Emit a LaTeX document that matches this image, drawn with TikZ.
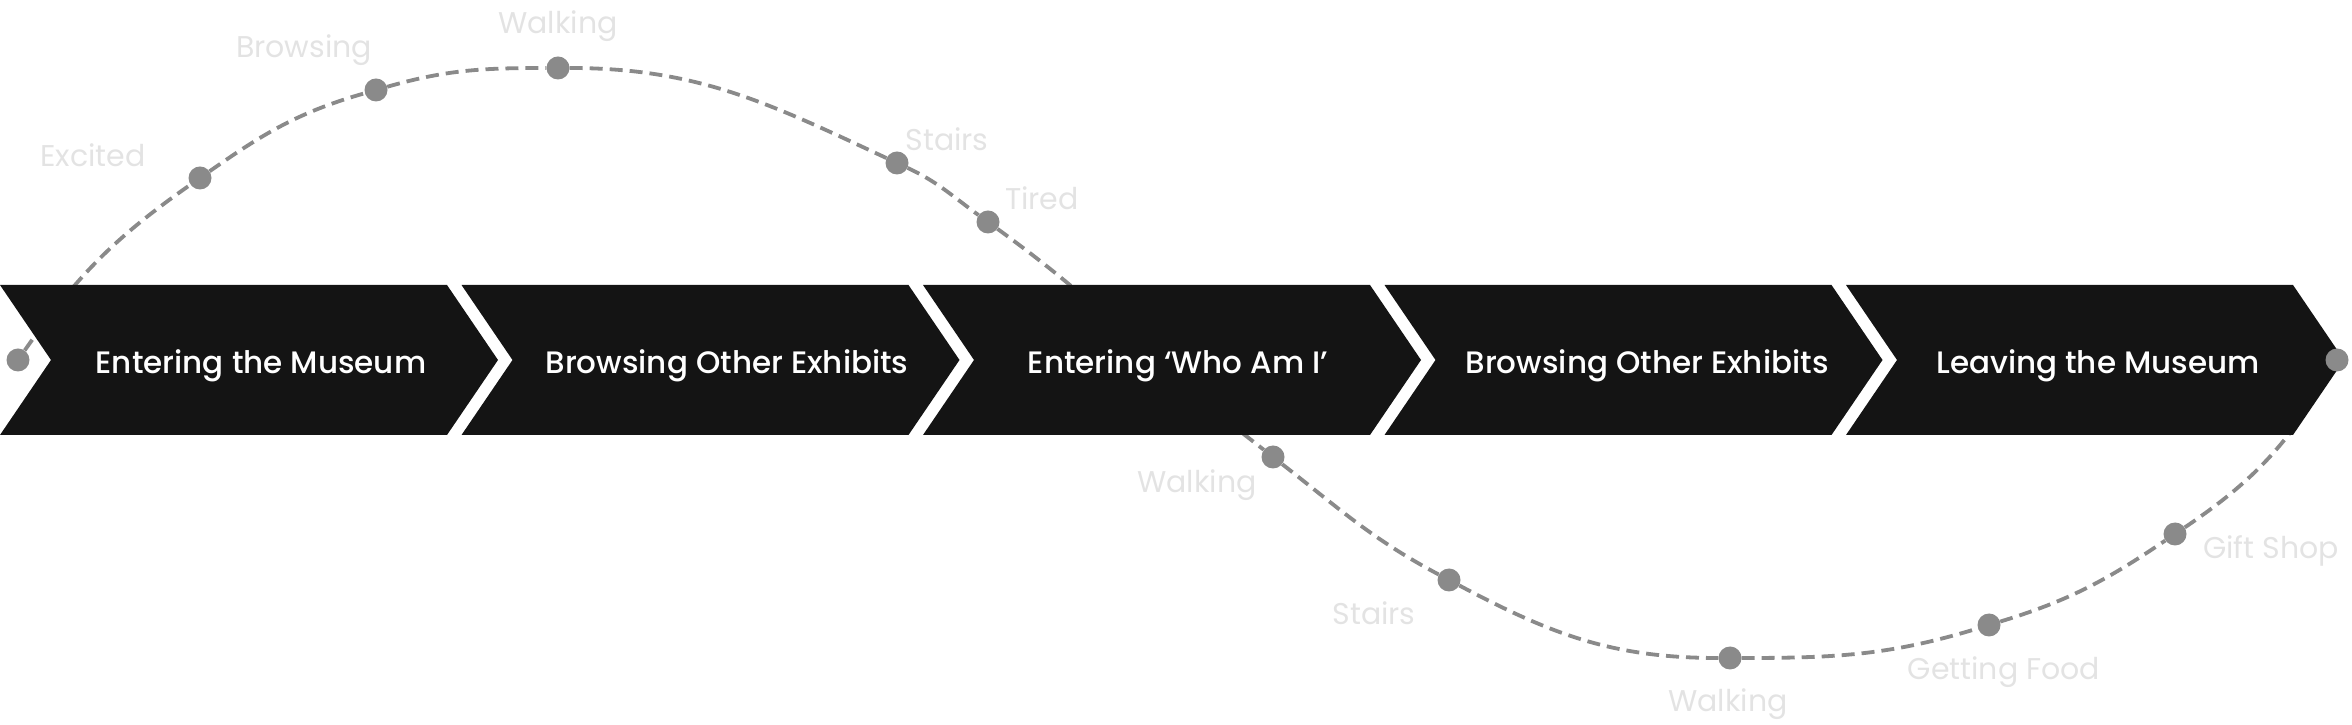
\documentclass[tikz,border=0pt]{standalone}
\usepackage{fontspec}
\setmainfont{Poppins}
\newfontfamily\medfont{Poppins Medium}
\usetikzlibrary{backgrounds}
\definecolor{bandc}{HTML}{141414}
\definecolor{dotc}{HTML}{8A8A8A}
\definecolor{lblc}{HTML}{E3E3E3}
\begin{document}
\begin{tikzpicture}[x=1pt,y=1pt,
  chev/.style={fill=bandc},
  stage/.style={text=white, font=\medfont\fontsize{31}{36}\selectfont, anchor=base, inner sep=0pt},
  dotn/.style={circle, fill=dotc, minimum size=23pt, inner sep=0pt},
  lab/.style={text=lblc, font=\fontsize{30}{34}\selectfont, anchor=base, inner sep=0pt},
  journey/.style={draw=dotc, line width=3.8pt, dash pattern=on 13pt off 7pt}]
\useasboundingbox (0,0) rectangle (2352,725);
% chevrons
\foreach \L/\cx/\t [count=\i] in {0/261/Entering the Museum, 461.5/727/Browsing Other Exhibits, 923/1178/Entering ‘Who Am I’, 1384.5/1647/Browsing Other Exhibits, 1846/2098/Leaving the Museum}{
  \fill[chev] (\L,290) -- ++(447,0) -- ++(51,75) -- ++(-51,75) -- ++(-447,0) -- ++(51,-75) -- cycle;
  \node[stage] (s\i) at (\cx,351) {\t};
}
% dots
\node[dotn] (d0) at (18,365) {};
\node[dotn] (d1) at (200,547) {};
\node[dotn] (d2) at (376,635) {};
\node[dotn] (d3) at (558,657) {};
\node[dotn] (d4) at (897,562) {};
\node[dotn] (d5) at (988,503) {};
\coordinate (m) at (1155,365);
\node[dotn] (d6) at (1273,268) {};
\node[dotn] (d7) at (1449,145) {};
\node[dotn] (d8) at (1730,67) {};
\node[dotn] (d9) at (1989,100) {};
\node[dotn] (d10) at (2175,191) {};
\node[dotn] (d11) at (2337,365) {};
% labels
\node[lab] (l1) at (93,558) {Excited};
\node[lab] (l2) at (304,667) {Browsing};
\node[lab] (l3) at (558,691) {Walking};
\node[lab] (l4) at (947,574) {Stairs};
\node[lab] (l5) at (1042,515) {Tired};
\node[lab] (l6) at (1197,232) {Walking};
\node[lab] (l7) at (1374,100) {Stairs};
\node[lab] (l8) at (1728,13) {Walking};
\node[lab] (l9) at (2004,45) {Getting Food};
\node[lab] (l10) at (2271,166) {Gift Shop};
% curve
\begin{scope}[on background layer]
\draw[journey] (d0) to[out=55,in=215] (d1)
  to[out=35,in=196] (d2)
  to[out=16,in=180] (d3)
  to[out=0,in=155] (d4)
  to[out=-25,in=144] (d5)
  to[out=-36,in=138] (m)
  to[out=-42,in=142] (d6)
  to[out=-38,in=152] (d7)
  to[out=-28,in=180] (d8)
  to[out=0,in=197] (d9)
  to[out=17,in=214] (d10)
  to[out=34,in=240] (d11);
\end{scope}
\end{tikzpicture}
\end{document}
